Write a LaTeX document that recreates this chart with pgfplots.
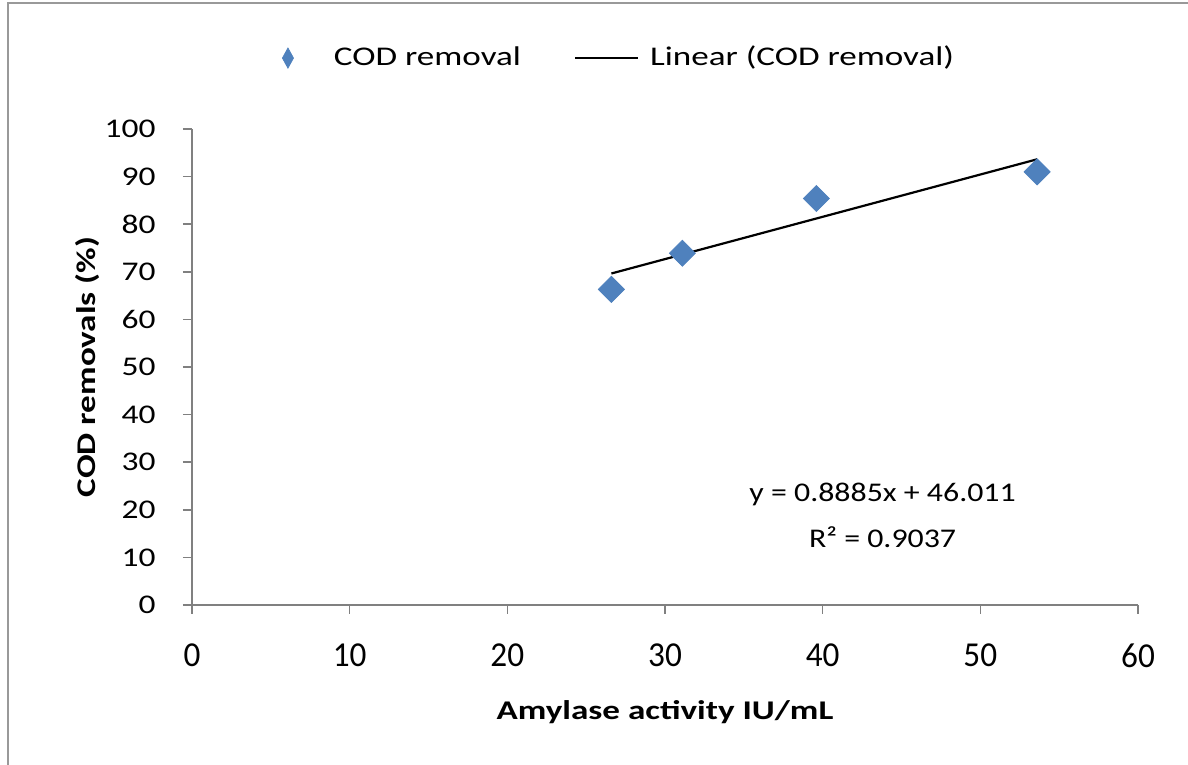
\documentclass[border=0pt]{standalone}
\usepackage{fontspec}
\setmainfont{Carlito}[FakeStretch=1.3]
\newfontfamily\ytickfont{Carlito}[FakeStretch=1.24]
\newfontfamily\xtickfont{Carlito}[FakeStretch=0.95]
\newfontfamily\eqfont{Carlito}[FakeStretch=1.18]
\usepackage{pgfplots}
\pgfplotsset{compat=1.18}
\definecolor{codblue}{HTML}{4F81BD}
\begin{document}
\fontsize{13.5pt}{16pt}\selectfont
\begin{tikzpicture}
\useasboundingbox (0,0) rectangle (594pt,382.5pt);
\draw[gray!80, line width=1pt] (4pt,-5pt) -- (4pt,381pt) -- (600pt,381pt);
\begin{axis}[
  at={(96pt,80pt)}, anchor=south west,
  scale only axis, width=473pt, height=238pt,
  xmin=0, xmax=60, ymin=0, ymax=100,
  xtick={0,10,...,60}, ytick={0,10,...,100},
  axis lines=left,
  axis line style={gray, line width=0.8pt, -},
  tick style={gray, line width=0.8pt},
  major tick length=4.5pt, tick align=outside,
  /pgf/number format/assume math mode=true,
  yticklabel style={font=\ytickfont\fontsize{13.5pt}{16pt}\selectfont, xshift=-9pt},
  xticklabel style={font=\xtickfont\fontsize{17.5pt}{20pt}\selectfont, yshift=-10pt},
  xlabel={\textbf{Amylase activity IU/mL}},
  ylabel={\textbf{COD removals (\%)}},
  xlabel style={at={(axis description cs:0.5,-0.225)}, anchor=center},
  ylabel style={at={(axis description cs:-0.11,0.5)}, anchor=center},
  legend columns=-1,
  legend style={draw=none, fill=none, inner sep=0pt, outer sep=0pt,
    at={(axis description cs:0.0951,1.149)}, anchor=west,
    font=\fontsize{13.5pt}{16pt}\selectfont,
    /tikz/every even column/.append style={column sep=24.5pt}},
]
\addplot[only marks, mark=square*, mark size=4.6pt, mark options={rotate=45, fill=codblue, draw=codblue},
  legend image code/.code={\fill[codblue] (3pt,5pt) -- (5.75pt,0pt) -- (3pt,-5pt) -- (0.25pt,0pt) -- cycle; \path[draw=none, fill=none] (0pt,0pt) -- (24pt,0pt);}]
  coordinates {(26.6,66.3) (31.1,73.9) (39.6,85.4) (53.6,91.0)};
\addlegendentry{COD removal}
\addplot[black, line width=1.1pt, no marks,
  legend image code/.code={\draw[black, line width=1.1pt] (0pt,0pt) -- (31.5pt,0pt); \path[draw=none, fill=none] (0pt,0pt) -- (35.5pt,0pt);}]
  coordinates {(26.6,69.645) (53.6,93.635)};
\addlegendentry{Linear (COD removal)}
\node[font=\eqfont] at (axis cs:43.8,23.3) {y = 0.8885x + 46.011};
\node[font=\eqfont] at (axis cs:43.8,14.3) {R² = 0.9037};
\end{axis}
\end{tikzpicture}
\end{document}
